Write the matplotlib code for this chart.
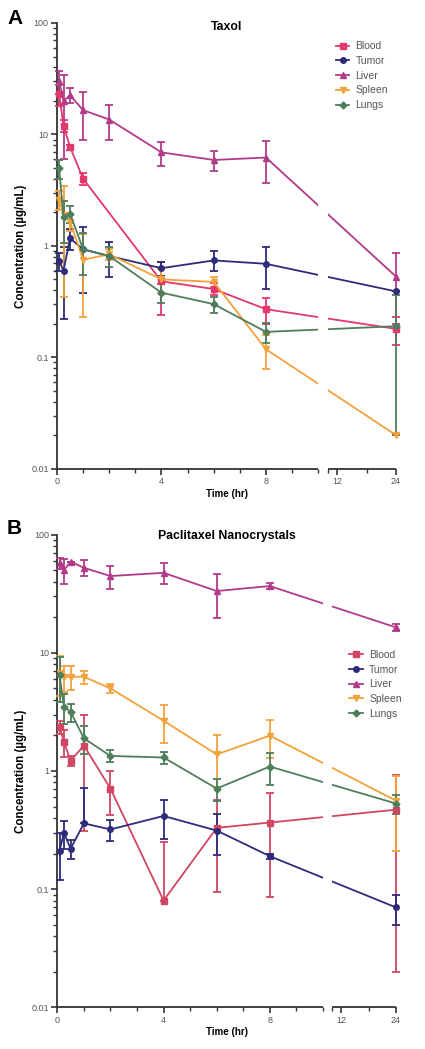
import numpy as np
import matplotlib
matplotlib.use("Agg")
import matplotlib.pyplot as plt
from matplotlib.lines import Line2D
from matplotlib.ticker import FixedLocator, FixedFormatter, LogLocator, NullFormatter

plt.rcParams['font.family'] = ['Liberation Sans', 'DejaVu Sans']

# ---------------- data ----------------
time_hr = [0.083, 0.25, 0.5, 1, 2, 4, 6, 8, 24]
organs = ["Blood", "Tumor", "Liver", "Spleen", "Lungs"]

# Panel A : Taxol
taxol_blood = [23, 12, 7.7, 4.0, np.nan, 0.48, 0.41, 0.27, 0.18]
taxol_blood_sd = [5, 1.5, 0.4, 0.5, np.nan, 0.24, 0.05, 0.07, 0.05]
taxol_tumor = [0.73, 0.6, 1.17, 0.93, 0.81, 0.63, 0.74, 0.69, 0.39]
taxol_tumor_sd = [0.13, 0.38, 0.25, 0.55, 0.28, 0.09, 0.15, 0.28, 0.0]
taxol_liver = [30, 20, 22.5, 16.5, 13.6, 6.9, 5.9, 6.2, 0.53]
taxol_liver_sd = [7, 14, 3.4, 7.5, 4.6, 1.7, 1.2, 2.5, 0.33]
taxol_spleen = [2.6, 1.9, 1.65, 0.75, 0.84, 0.5, 0.475, 0.118, 0.02]
taxol_spleen_sd = [0.5, 1.55, 0.3, 0.52, 0.1, 0.12, 0.05, 0.04, 0.0]
taxol_lungs = [4.95, 1.8, 1.95, 0.93, 0.81, 0.38, 0.3, 0.169, 0.19]
taxol_lungs_sd = [1.0, 0.75, 0.35, 0.38, 0.17, 0.07, 0.05, 0.035, 0.17]

# Panel B : Paclitaxel Nanocrystals
nano_blood = [2.34, 1.77, 1.22, 1.64, 0.71, 0.08, 0.33, 0.366, 0.47]
nano_blood_sd = [0.3, 0.45, 0.11, 1.33, 0.29, 0.17, 0.235, 0.28, 0.45]
nano_tumor = [0.21, 0.3, 0.22, 0.36, 0.32, 0.416, 0.313, 0.19, 0.07]
nano_tumor_sd = [0.09, 0.08, 0.04, 0.36, 0.065, 0.15, 0.12, 0.01, 0.02]
nano_liver = [57, 50, 59, 52.4, 44.6, 47.5, 33.3, 36.7, 16.4]
nano_liver_sd = [6, 12, 0, 8, 10, 9.5, 13.5, 2, 1]
nano_spleen = [6.8, 6.2, 6.27, 6.27, 5.0, 2.66, 1.38, 1.99, 0.56]
nano_spleen_sd = [2.5, 1.5, 1.4, 0.8, 0.45, 0.95, 0.65, 0.7, 0.35]
nano_lungs = [6.5, 3.5, 3.17, 1.89, 1.34, 1.3, 0.71, 1.09, 0.53]
nano_lungs_sd = [2.7, 1.0, 0.55, 0.5, 0.15, 0.15, 0.15, 0.33, 0.1]

x_tick_vals = [0, 4, 8, 12, 24]
x_tick_labels = ["0", "4", "8", "12", "24"]
y_tick_vals = [0.01, 0.1, 1, 10, 100]
y_tick_labels = ["0.01", "0.1", "1", "10", "100"]

colors_a = {"Blood": "#E3386C", "Tumor": "#2D2B7A", "Liver": "#B13B88",
            "Spleen": "#F3A13B", "Lungs": "#4E7E5B"}
colors_b = {"Blood": "#CF4762", "Tumor": "#2D2B7A", "Liver": "#B13B88",
            "Spleen": "#F3A13B", "Lungs": "#4E7E5B"}
markers = {"Blood": "s", "Tumor": "o", "Liver": "^", "Spleen": "v", "Lungs": "D"}
msizes = {"Blood": 4, "Tumor": 4, "Liver": 4.5, "Spleen": 4.5, "Lungs": 3.5}

W, H = 425, 1049
fig = plt.figure(figsize=(W / 100, H / 100), dpi=100)


def make_axes(px_left, px_right, px_top, px_bottom):
    return fig.add_axes([px_left / W, 1 - px_bottom / H,
                         (px_right - px_left) / W, (px_bottom - px_top) / H])


def setup_broken(ax, gap, k):
    def fwd(t):
        t = np.asarray(t, dtype=float)
        return np.where(t <= 10, t, 10 + gap + (t - 10) * k)

    def inv(d):
        d = np.asarray(d, dtype=float)
        return np.where(d <= 10, d,
                        np.where(d < 10 + gap, 10, 10 + (d - 10 - gap) / k))

    ax.set_xscale('function', functions=(fwd, inv))
    ax.set_xlim(0, 24)


def draw_panel(ax, data, colors, title, legend_anchor, gap, k, title_y):
    setup_broken(ax, gap, k)
    ax.set_yscale('log')
    ax.set_ylim(0.01, 100)
    t = np.array(time_hr)
    handles = []
    for name in organs:
        y, sd = data[name]
        y = np.array(y, dtype=float)
        sd = np.array(sd, dtype=float)
        m = ~np.isnan(y)
        lower = np.where(sd < y, sd, 0.0)
        c = colors[name]
        ax.errorbar(t[m], y[m], yerr=[lower[m], sd[m]], color=c, lw=1.3,
                    marker=markers[name], ms=msizes[name], capsize=2.6,
                    capthick=1.3, elinewidth=1.3, zorder=3, clip_on=False)
        handles.append(Line2D([], [], color=c, lw=1.3, marker=markers[name],
                              ms=msizes[name], label=name))
    # white gap at the axis break
    ax.axvspan(10, 10.00001, color='white', zorder=6, lw=0)

    # axes style
    for s in ['top', 'right', 'bottom']:
        ax.spines[s].set_visible(False)
    ax.spines['left'].set_linewidth(1.3)
    ax.spines['left'].set_color('#333333')
    xt = ax.get_xaxis_transform()
    ax.plot([0, 10], [0, 0], transform=xt, color='#333333', lw=1.3,
            clip_on=False, zorder=7, solid_capstyle='butt')
    ax.plot([10.00001, 24], [0, 0], transform=xt, color='#333333', lw=1.3,
            clip_on=False, zorder=7, solid_capstyle='butt')

    ax.xaxis.set_major_locator(FixedLocator(x_tick_vals))
    ax.xaxis.set_major_formatter(FixedFormatter(x_tick_labels))
    ax.xaxis.set_minor_locator(FixedLocator([1, 2, 3, 5, 6, 7, 9, 10, 10.00001, 18]))
    ax.yaxis.set_major_locator(FixedLocator(y_tick_vals))
    ax.yaxis.set_major_formatter(FixedFormatter(y_tick_labels))
    ax.yaxis.set_minor_locator(LogLocator(base=10, subs=np.arange(2, 10)))
    ax.yaxis.set_minor_formatter(NullFormatter())
    ax.tick_params(axis='both', which='major', direction='out', length=4,
                   width=1.2, color='#333333', labelsize=6.5, labelcolor='#555555',
                   pad=2)
    ax.tick_params(axis='both', which='minor', direction='out', length=3,
                   width=1.0, color='#333333')

    ax.set_xlabel("Time (hr)", fontsize=7, fontweight='bold', labelpad=2)
    ax.set_ylabel("Concentration (\u00b5g/mL)", fontsize=8.3, fontweight='bold',
                  labelpad=3)
    ax.text(0.5, title_y, title, transform=ax.transAxes, ha='center', va='center',
            fontsize=8.8, fontweight='bold')
    ax.set_facecolor('none')

    leg = ax.legend(handles=handles, loc='upper left', bbox_to_anchor=legend_anchor,
                    frameon=False, fontsize=7.5, handlelength=1.3, handletextpad=0.6,
                    labelspacing=0.45, borderaxespad=0)
    for txt in leg.get_texts():
        txt.set_color('#555555')
    leg.set_zorder(8)


data_a = {"Blood": (taxol_blood, taxol_blood_sd),
          "Tumor": (taxol_tumor, taxol_tumor_sd),
          "Liver": (taxol_liver, taxol_liver_sd),
          "Spleen": (taxol_spleen, taxol_spleen_sd),
          "Lungs": (taxol_lungs, taxol_lungs_sd)}
data_b = {"Blood": (nano_blood, nano_blood_sd),
          "Tumor": (nano_tumor, nano_tumor_sd),
          "Liver": (nano_liver, nano_liver_sd),
          "Spleen": (nano_spleen, nano_spleen_sd),
          "Lungs": (nano_lungs, nano_lungs_sd)}

ax_a = make_axes(57, 396, 23, 468.7)
draw_panel(ax_a, data_a, colors_a, "Taxol", (0.81, 0.968), 0.36, 0.187,
           1 - (27 - 23) / 445.7)

ax_b = make_axes(57.3, 396, 534.6, 1007.3)
draw_panel(ax_b, data_b, colors_b, "Paclitaxel Nanocrystals", (0.85, 0.765),
           0.355, 0.171, 1 - (536 - 534.6) / 472.7)

fig.text(7 / W, 1 - 18 / H, "A", fontsize=15, fontweight='bold', va='center', ha='left')
fig.text(7 / W, 1 - 528 / H, "B", fontsize=15, fontweight='bold', va='center', ha='left')

fig.savefig("out.png", dpi=100, facecolor='white')
